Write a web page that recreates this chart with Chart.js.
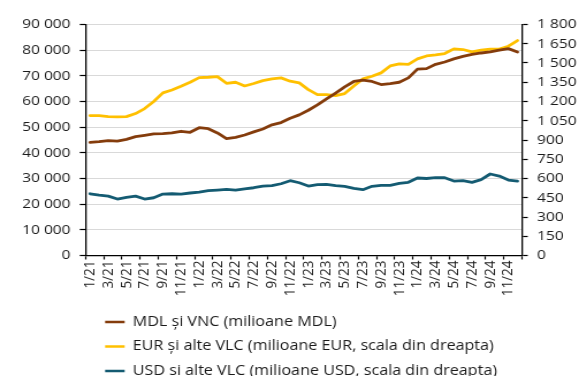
<!DOCTYPE html>
<html>
<head>
<meta charset="utf-8">
<script src="https://cdn.jsdelivr.net/npm/chart.js@4/dist/chart.umd.min.js"></script>
<style>
  html, body { margin: 0; padding: 0; background: #fff; overflow: hidden; width: 579px; height: 376px; }
  #wrap { width: 503px; height: 388px; transform: scaleX(1.1511); transform-origin: 0 0; }
  canvas { display: block; }
</style>
</head>
<body>
<div id="wrap"><canvas id="c" width="503" height="388"></canvas></div>
<script>
// Months, January 2021 to December 2024
const months = [
  '1/21','2/21','3/21','4/21','5/21','6/21','7/21','8/21','9/21','10/21','11/21','12/21',
  '1/22','2/22','3/22','4/22','5/22','6/22','7/22','8/22','9/22','10/22','11/22','12/22',
  '1/23','2/23','3/23','4/23','5/23','6/23','7/23','8/23','9/23','10/23','11/23','12/23',
  '1/24','2/24','3/24','4/24','5/24','6/24','7/24','8/24','9/24','10/24','11/24','12/24'
];

// MDL și VNC, milioane MDL (left axis)
const mdl = [
  44100, 44350, 44750, 44600, 45250, 46300, 46800, 47350, 47500, 47750, 48400, 48000,
  49800, 49400, 47750, 45550, 46050, 46950, 48150, 49300, 50900, 51800, 53500, 54800,
  56600, 58700, 61000, 63300, 65700, 67800, 68300, 67800, 66600, 67000, 67500, 69200,
  72600, 72800, 74500, 75400, 76600, 77600, 78400, 78900, 79300, 80000, 80600, 79300
];

// EUR și alte VLC, milioane EUR (right axis)
const eur = [
  1090, 1090, 1082, 1080, 1082, 1106, 1145, 1200, 1267, 1290, 1319, 1350,
  1386, 1389, 1394, 1342, 1350, 1321, 1340, 1363, 1376, 1384, 1358, 1345,
  1293, 1254, 1254, 1246, 1262, 1321, 1376, 1397, 1423, 1477, 1493, 1490,
  1532, 1555, 1563, 1574, 1610, 1605, 1587, 1600, 1608, 1608, 1631, 1675
];

// USD și alte VLC, milioane USD (right axis)
const usd = [
  481, 471, 463, 440, 453, 463, 440, 450, 479, 481, 479, 487,
  494, 505, 510, 515, 510, 520, 528, 541, 544, 559, 583, 567,
  541, 552, 554, 544, 539, 523, 513, 539, 546, 547, 562, 570,
  604, 600, 606, 606, 580, 583, 570, 591, 635, 619, 588, 580
];

const leftTicks = { min: 0, max: 90000, step: 10000 };
const rightTicks = { min: 0, max: 1800, step: 150 };

const seriesNames = [
  'MDL și VNC (milioane MDL)',
  'EUR și alte VLC (milioane EUR, scala din dreapta)',
  'USD și alte VLC (milioane USD, scala din dreapta)'
];

const C_BROWN = '#843C0C';
const C_YELLOW = '#FFC000';
const C_TEAL = '#145B72';
const TEXT = '#1a1a1a';
const FONT = { family: '"Open Sans", "Noto Sans", sans-serif', size: 14 };
const AXIS_FONT = { family: '"Open Sans", "Noto Sans", sans-serif', size: 13.5 };

const spaced = v => String(v).replace(/\B(?=(\d{3})+(?!\d))/g, ' ');

// Places the legend block under the plot, left aligned with the sample lines
const legendShift = {
  id: 'legendShift',
  afterLayout(chart) {
    const lg = chart.legend;
    if (!lg) return;
    const dx = 80.8 - lg.left;
    lg.left += dx;
    lg.right += dx;
  }
};

new Chart(document.getElementById('c'), {
  type: 'line',
  data: {
    labels: months,
    datasets: [
      { label: seriesNames[0], data: mdl, yAxisID: 'y', borderColor: C_BROWN, backgroundColor: C_BROWN },
      { label: seriesNames[1], data: eur, yAxisID: 'y1', borderColor: C_YELLOW, backgroundColor: C_YELLOW },
      { label: seriesNames[2], data: usd, yAxisID: 'y1', borderColor: C_TEAL, backgroundColor: C_TEAL }
    ]
  },
  options: {
    responsive: false,
    devicePixelRatio: 1,
    animation: false,
    elements: {
      line: { borderWidth: 2.8, tension: 0, borderCapStyle: 'round', borderJoinStyle: 'round' },
      point: { radius: 0, hoverRadius: 0 }
    },
    layout: { padding: { top: 24.5, left: 0, right: 0, bottom: 0 } },
    plugins: {
      tooltip: { enabled: false },
      legend: {
        position: 'bottom',
        align: 'start',
        fullSize: false,
        labels: {
          color: TEXT,
          font: FONT,
          boxWidth: 17,
          boxHeight: 2.6,
          padding: 10.5,
          generateLabels(chart) {
            const items = Chart.defaults.plugins.legend.labels.generateLabels(chart);
            items.forEach(it => { it.lineWidth = 0; it.strokeStyle = 'transparent'; });
            return items;
          }
        }
      }
    },
    scales: {
      x: {
        type: 'category',
        offset: true,
        grid: {
          offset: true,
          drawOnChartArea: false,
          drawTicks: true,
          tickLength: 4,
          tickWidth: 1.2,
          tickColor: c => (c.index === undefined || c.index % 2 === 0) ? '#000' : 'rgba(0,0,0,0)'
        },
        border: { display: true, color: '#000', width: 1.3 },
        ticks: {
          autoSkip: false,
          maxRotation: 90,
          minRotation: 90,
          padding: 1,
          color: TEXT,
          font: AXIS_FONT,
          callback(val, i) { return i % 2 === 0 ? this.getLabelForValue(val) : ''; }
        },
        afterFit(s) { s.height = 49; }
      },
      y: {
        position: 'left',
        min: leftTicks.min,
        max: leftTicks.max,
        grid: { color: '#D9D9D9', lineWidth: 1, tickColor: '#000', tickLength: 5, tickWidth: 1.2 },
        border: { display: true, color: '#000', width: 1.3 },
        ticks: { stepSize: leftTicks.step, autoSkip: false, padding: 8, color: TEXT, font: AXIS_FONT, callback: v => spaced(v) },
        afterFit(s) { s.width = 74.3; }
      },
      y1: {
        position: 'right',
        min: rightTicks.min,
        max: rightTicks.max,
        grid: { drawOnChartArea: false, tickColor: '#000', tickLength: 5, tickWidth: 1.2 },
        border: { display: true, color: '#000', width: 1.3 },
        ticks: { stepSize: rightTicks.step, autoSkip: false, padding: 8, color: TEXT, font: AXIS_FONT, callback: v => spaced(v) },
        afterFit(s) { s.width = 49.5; }
      }
    }
  },
  plugins: [legendShift]
});
</script>
</body>
</html>
